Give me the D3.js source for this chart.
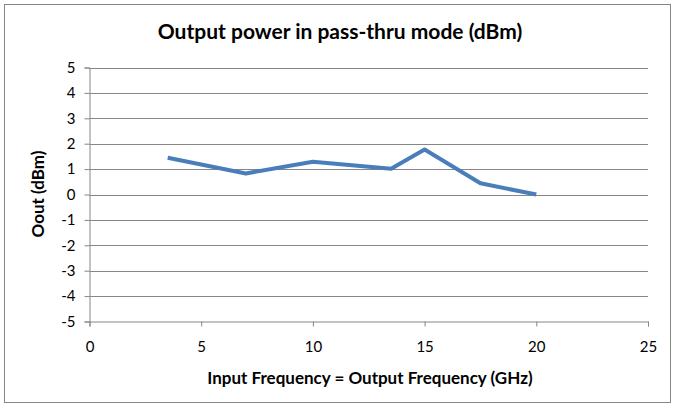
<!DOCTYPE html>
<html>
<head>
<meta charset="utf-8">
<script src="https://cdn.jsdelivr.net/npm/d3@7"></script>
<style>
  body { margin: 0; background: #fff; }
  text { font-family: Lato, "Open Sans", sans-serif; fill: #000; }
</style>
</head>
<body>
<svg id="chart" width="675" height="408"></svg>
<script>
// frequency (GHz) and output power (dBm)
var freq = [3.5, 7, 10, 13.5, 15, 17.5, 20];
var pout = [1.45, 0.83, 1.29, 1.01, 1.77, 0.44, 0.0];
var xTicks = [0, 5, 10, 15, 20, 25];
var yTicks = [-5, -4, -3, -2, -1, 0, 1, 2, 3, 4, 5];

var svg = d3.select("#chart");
var pLeft = 89.5, pRight = 648, pTop = 67.5, pBottom = 321.5;

svg.append("rect")
   .attr("x", 4.5).attr("y", 4.5).attr("width", 666).attr("height", 398)
   .attr("fill", "#fff").attr("stroke", "#868686").attr("stroke-width", 1);

var x = d3.scaleLinear().domain([0, 25]).range([pLeft, pRight]);
var y = d3.scaleLinear().domain([-5, 5]).range([pBottom, pTop]);

// gridlines
svg.append("g").selectAll("line")
   .data(yTicks.filter(function(d){ return d > -5; }))
   .enter().append("line")
   .attr("x1", pLeft).attr("x2", pRight)
   .attr("y1", function(d){ return Math.round(y(d)) + 0.5; })
   .attr("y2", function(d){ return Math.round(y(d)) + 0.5; })
   .attr("stroke", "#868686").attr("stroke-width", 1);

var yAxis = svg.append("g")
   .attr("transform", "translate(" + pLeft + ",0)")
   .call(d3.axisLeft(y).tickValues(yTicks).tickSize(5).tickPadding(9).tickFormat(d3.format("d")));
var xAxis = svg.append("g")
   .attr("transform", "translate(0," + pBottom + ")")
   .call(d3.axisBottom(x).tickValues(xTicks).tickSize(5).tickPadding(15));

[xAxis, yAxis].forEach(function(a){
    a.select(".domain").attr("stroke", "#868686");
    a.selectAll(".tick line").attr("stroke", "#868686");
    a.selectAll(".tick text").style("font-size", "15px").attr("font-family", "Lato").attr("fill", "#000");
});
yAxis.selectAll(".tick text").text(function(d){ return d < 0 ? "-" + Math.abs(d) : d; });

var line = d3.line()
   .x(function(d, i){ return x(freq[i]); })
   .y(function(d){ return y(d); });

svg.append("path")
   .datum(pout)
   .attr("d", line)
   .attr("fill", "none")
   .attr("stroke", "#4A7EBB")
   .attr("stroke-width", 4)
   .attr("stroke-linejoin", "round");

svg.append("text")
   .attr("x", 340).attr("y", 39)
   .attr("text-anchor", "middle")
   .style("font-size", "21px").style("font-weight", "bold")
   .text("Output power in pass-thru mode (dBm)");

svg.append("text")
   .attr("x", 370).attr("y", 384)
   .attr("text-anchor", "middle")
   .style("font-size", "17px").style("font-weight", "bold")
   .text("Input Frequency = Output Frequency (GHz)");

svg.append("text")
   .attr("transform", "translate(44,194) rotate(-90)")
   .attr("text-anchor", "middle")
   .style("font-size", "17px").style("font-weight", "bold")
   .text("Oout (dBm)");
</script>
</body>
</html>
